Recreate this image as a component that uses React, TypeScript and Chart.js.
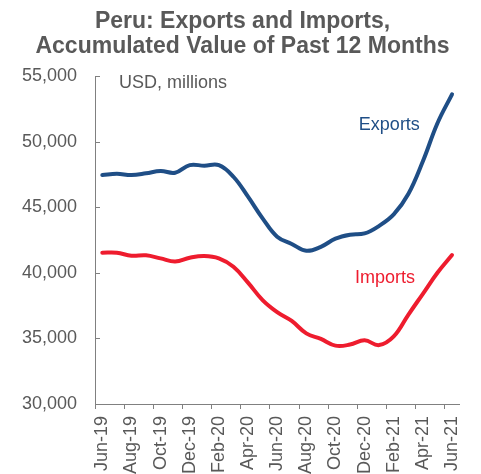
import React, { useEffect, useRef } from "react";
import { Chart, registerables } from "chart.js";

Chart.register(...registerables);

const months = [
  "Jun-19", "Jul-19", "Aug-19", "Sep-19", "Oct-19", "Nov-19", "Dec-19", "Jan-20", "Feb-20",
  "Mar-20", "Apr-20", "May-20", "Jun-20", "Jul-20", "Aug-20", "Sep-20", "Oct-20", "Nov-20",
  "Dec-20", "Jan-21", "Feb-21", "Mar-21", "Apr-21", "May-21", "Jun-21",
];

const exportsValues = [
  47450, 47550, 47450, 47580, 47760, 47630, 48210, 48160, 48200, 47320, 45800, 44150, 42750,
  42200, 41680, 41980, 42600, 42900, 43000, 43580, 44450, 46000, 48500, 51400, 53600,
];

const importsValues = [
  41530, 41530, 41300, 41330, 41100, 40870, 41150, 41280, 41100, 40460, 39250, 37920, 37000,
  36330, 35380, 34960, 34450, 34530, 34850, 34490, 35150, 36800, 38400, 40000, 41350,
];

const yTicks = [30000, 35000, 40000, 45000, 50000, 55000];

const titleLines = ["Peru: Exports and Imports,", "Accumulated Value of Past 12 Months"];
const unitLabel = "USD, millions";
const exportsLabel = "Exports";
const importsLabel = "Imports";

const FONT = "'Liberation Sans', Arial, sans-serif";
const GRAY_TEXT = "#595959";
const AXIS_GRAY = "#808080";
const BLUE = "#1F4E86";
const RED = "#EE1C2E";

const overlayPlugin = {
  id: "overlay",
  afterDraw(chart: any) {
    const { ctx, scales } = chart;
    const x = scales.x;
    const y = scales.y;
    ctx.save();
    // inner tick marks on y axis
    ctx.strokeStyle = AXIS_GRAY;
    ctx.lineWidth = 1;
    for (const v of yTicks) {
      const py = Math.round(y.getPixelForValue(v)) + 0.5;
      ctx.beginPath();
      ctx.moveTo(x.left, py);
      ctx.lineTo(x.left + 5, py);
      ctx.stroke();
    }
    // title
    ctx.font = `bold 23px ${FONT}`;
    ctx.fillStyle = GRAY_TEXT;
    ctx.textAlign = "center";
    ctx.textBaseline = "middle";
    const cx = chart.width / 2 + 2;
    ctx.fillText(titleLines[0], cx, 21.5);
    ctx.fillText(titleLines[1], cx, 47);
    // annotations
    ctx.font = `18px ${FONT}`;
    ctx.fillStyle = GRAY_TEXT;
    ctx.textAlign = "left";
    ctx.fillText(unitLabel, x.getPixelForValue(1.15), y.getPixelForValue(54450));
    ctx.textAlign = "center";
    ctx.fillStyle = BLUE;
    ctx.fillText(exportsLabel, x.getPixelForValue(19.7), y.getPixelForValue(51260));
    ctx.fillStyle = RED;
    ctx.fillText(importsLabel, x.getPixelForValue(19.4), y.getPixelForValue(39580));
    ctx.restore();
  },
};

export default function App() {
  const ref = useRef<HTMLCanvasElement>(null);
  useEffect(() => {
    if (!ref.current) return;
    const chart = new Chart(ref.current, {
      type: "line",
      data: {
        labels: months,
        datasets: [
          {
            label: "Exports",
            data: exportsValues,
            borderColor: BLUE,
            borderWidth: 4,
            pointRadius: 0,
            tension: 0.4,
            borderCapStyle: "round",
            fill: false,
          },
          {
            label: "Imports",
            data: importsValues,
            borderColor: RED,
            borderWidth: 4,
            pointRadius: 0,
            tension: 0.4,
            borderCapStyle: "round",
            fill: false,
          },
        ],
      },
      options: {
        animation: false,
        responsive: false,
        layout: { padding: { left: 0, right: 19, top: 76, bottom: 0 } },
        plugins: {
          legend: { display: false },
          tooltip: { enabled: false },
          title: { display: false },
        },
        scales: {
          x: {
            type: "category",
            offset: true,
            afterFit: (s: any) => {
              s.height = 70;
            },
            grid: {
              offset: true,
              drawOnChartArea: false,
              drawTicks: true,
              tickLength: 5,
              color: (c: any) => (c.index % 2 === 0 ? AXIS_GRAY : "rgba(0,0,0,0)"),
            },
            border: { display: true, color: AXIS_GRAY, width: 1 },
            ticks: {
              autoSkip: false,
              maxRotation: 90,
              minRotation: 90,
              padding: 7,
              color: GRAY_TEXT,
              font: { family: FONT, size: 18 },
              callback: (_v: any, i: number) => (i % 2 === 0 ? months[i] : ""),
            },
          },
          y: {
            min: 30000,
            max: 55000,
            afterFit: (s: any) => {
              s.width = 95;
            },
            afterBuildTicks: (s: any) => {
              s.ticks = yTicks.map((v) => ({ value: v }));
            },
            grid: { drawOnChartArea: false, drawTicks: false },
            border: { display: true, color: AXIS_GRAY, width: 1 },
            ticks: {
              padding: 18,
              color: GRAY_TEXT,
              font: { family: FONT, size: 18 },
              callback: (v: any) => Number(v).toLocaleString("en-US"),
            },
          },
        },
      },
      plugins: [overlayPlugin],
    });
    return () => chart.destroy();
  }, []);
  return (
    <div style={{ position: "fixed", left: 0, top: 0, width: 481, height: 474, background: "#fff" }}>
      <canvas ref={ref} width={481} height={474} style={{ display: "block" }} />
    </div>
  );
}
